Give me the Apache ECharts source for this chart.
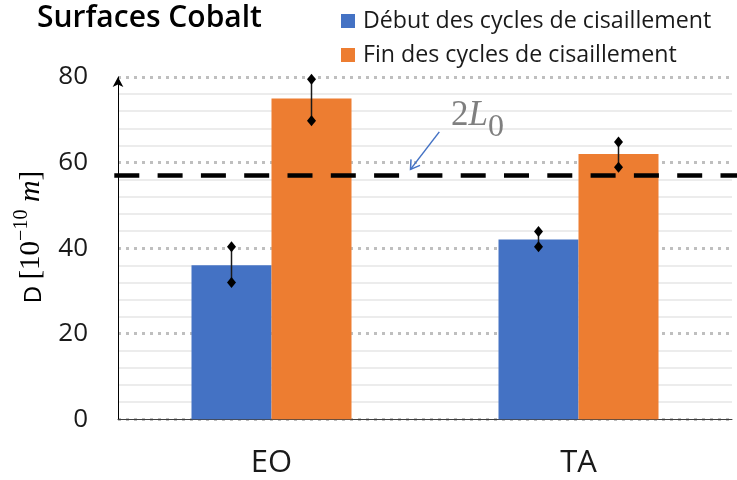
<!DOCTYPE html>
<html>
<head>
<meta charset="utf-8">
<script src="https://cdn.jsdelivr.net/npm/echarts@6/dist/echarts.min.js"></script>
<style>
  html, body { margin: 0; padding: 0; background: #ffffff; }
  #chart { width: 737px; height: 480px; }
</style>
</head>
<body>
<div id="chart"></div>
<script>
// Data
const categories = ['EO', 'TA'];
const seriesNames = ['Début des cycles de cisaillement', 'Fin des cycles de cisaillement'];
const debutValues = [36, 42];
const finValues = [75, 62];
const debutLow = [32, 40.3];
const debutHigh = [40.3, 43.9];
const finLow = [69.8, 58.9];
const finHigh = [79.5, 64.8];
const refLength = 57;          // 2L0 reference level
const yMin = 0, yMax = 80, yStep = 20;

// Styles
const BLUE = '#4472C4';
const ORANGE = '#ED7D31';
const BAR_W = 80;
const SANS = '"Open Sans", Lato, "Noto Sans", sans-serif';
const AXIS_FONT = '"Open Sans", "Noto Sans", sans-serif';
const SERIF = '"Liberation Serif", "DejaVu Serif", serif';

function diamond(x, y) {
  return {
    type: 'polygon',
    shape: { points: [[x, y - 5.5], [x + 4.5, y], [x, y + 5.5], [x - 4.5, y]] },
    style: { fill: '#000' }
  };
}

function errorBars(shift) {
  return function (params, api) {
    const i = api.value(0);
    const lo = api.coord([i, api.value(1)]);
    const hi = api.coord([i, api.value(2)]);
    const x = lo[0] + shift;
    return {
      type: 'group',
      children: [
        { type: 'line', shape: { x1: x, y1: lo[1], x2: x, y2: hi[1] },
          style: { stroke: '#1a1a1a', lineWidth: 1.5 } },
        diamond(x, lo[1]),
        diamond(x, hi[1])
      ]
    };
  };
}

const chart = echarts.init(document.getElementById('chart'), null, { renderer: 'canvas' });

chart.setOption({
  animation: false,
  backgroundColor: '#ffffff',
  title: {
    text: 'Surfaces Cobalt',
    left: 37, top: 3, padding: 0,
    textStyle: { fontFamily: SANS, fontWeight: 600, fontSize: 30, color: '#000' }
  },
  legend: {
    orient: 'vertical',
    left: 341, top: 9, padding: 0,
    itemWidth: 14, itemHeight: 14, itemGap: 10,
    icon: 'rect',
    data: seriesNames,
    textStyle: { fontFamily: SANS, fontSize: 23.2, lineHeight: 24, color: '#1a1a1a', padding: [0, 0, 0, 3] }
  },
  grid: { left: 118, right: 5, top: 77, bottom: 60.7, containLabel: false, outerBoundsMode: 'none' },
  xAxis: {
    type: 'category',
    data: categories,
    axisTick: { show: false },
    axisLine: { lineStyle: { color: '#404040', width: 1 } },
    axisLabel: { fontFamily: AXIS_FONT, fontSize: 31, color: '#1a1a1a', margin: 28 }
  },
  yAxis: {
    type: 'value',
    min: yMin, max: yMax, interval: yStep,
    axisLine: { show: true, symbol: ['none', 'arrow'], symbolSize: [8, 10],
      lineStyle: { color: '#000', width: 1 } },
    axisTick: { show: false },
    axisLabel: { fontFamily: AXIS_FONT, fontSize: 26, color: '#1a1a1a', margin: 30 },
    splitLine: { show: true, lineStyle: { color: '#bfbfbf', width: 3, type: [3, 5] } },
    minorTick: { show: false, splitNumber: 5 },
    minorSplitLine: { show: true, lineStyle: { color: '#ececec', width: 2 } }
  },
  series: [
    { name: seriesNames[0], type: 'bar', data: debutValues, barWidth: BAR_W, barGap: '0%',
      itemStyle: { color: BLUE } },
    { name: seriesNames[1], type: 'bar', data: finValues, barWidth: BAR_W, barGap: '0%',
      itemStyle: { color: ORANGE } },
    { type: 'custom', name: 'errDebut', z: 5,
      renderItem: errorBars(-BAR_W / 2), encode: { x: 0, y: [1, 2] },
      data: categories.map((c, i) => [i, debutLow[i], debutHigh[i]]) },
    { type: 'custom', name: 'errFin', z: 5,
      renderItem: errorBars(BAR_W / 2), encode: { x: 0, y: [1, 2] },
      data: categories.map((c, i) => [i, finLow[i], finHigh[i]]) }
  ]
});

// Reference line at 2L0, the annotation and the rotated axis title
const refY = chart.convertToPixel({ yAxisIndex: 0 }, refLength);
const W = chart.getWidth();
chart.setOption({
  graphic: [
    { type: 'line', z: 10,
      shape: { x1: 114.3, y1: refY, x2: W, y2: refY },
      style: { stroke: '#000', lineWidth: 4.5, lineDash: [25, 18.3] } },
    { type: 'text', z: 10, x: 451, y: refY - 77,
      style: {
        text: '{a|2}{b|L}{c|0}',
        fill: '#7f7f7f',
        rich: {
          a: { fontFamily: SERIF, fontSize: 35, fill: '#7f7f7f', verticalAlign: 'top', lineHeight: 44 },
          b: { fontFamily: SERIF, fontStyle: 'italic', fontSize: 35, fill: '#7f7f7f', verticalAlign: 'top', lineHeight: 45 },
          c: { fontFamily: SERIF, fontSize: 32, fill: '#7f7f7f', verticalAlign: 'bottom', lineHeight: 45 }
        }
      } },
    { type: 'polyline', z: 10,
      shape: { points: [[439.3, refY - 43.5], [410.5, refY - 6]] },
      style: { stroke: BLUE, lineWidth: 1.5, fill: null } },
    { type: 'polyline', z: 10,
      shape: { points: [[411, refY - 16], [410.5, refY - 6], [420, refY - 10]] },
      style: { stroke: BLUE, lineWidth: 1.5, fill: null } },
    { type: 'text', z: 10, x: 29, y: 237, rotation: Math.PI / 2,
      style: {
        text: '{d|D }{b|[10}{s|−10}{m| m}{b|]}',
        align: 'center', verticalAlign: 'middle',
        rich: {
          d: { fontFamily: SANS, fontSize: 24, fill: '#000', verticalAlign: 'bottom', lineHeight: 34 },
          b: { fontFamily: SERIF, fontSize: 29, fill: '#000', verticalAlign: 'bottom', lineHeight: 34 },
          s: { fontFamily: SERIF, fontSize: 20, fill: '#000', verticalAlign: 'top', lineHeight: 34 },
          m: { fontFamily: SERIF, fontStyle: 'italic', fontSize: 30, fill: '#000', verticalAlign: 'bottom', lineHeight: 34 }
        }
      } }
  ]
});
</script>
</body>
</html>
